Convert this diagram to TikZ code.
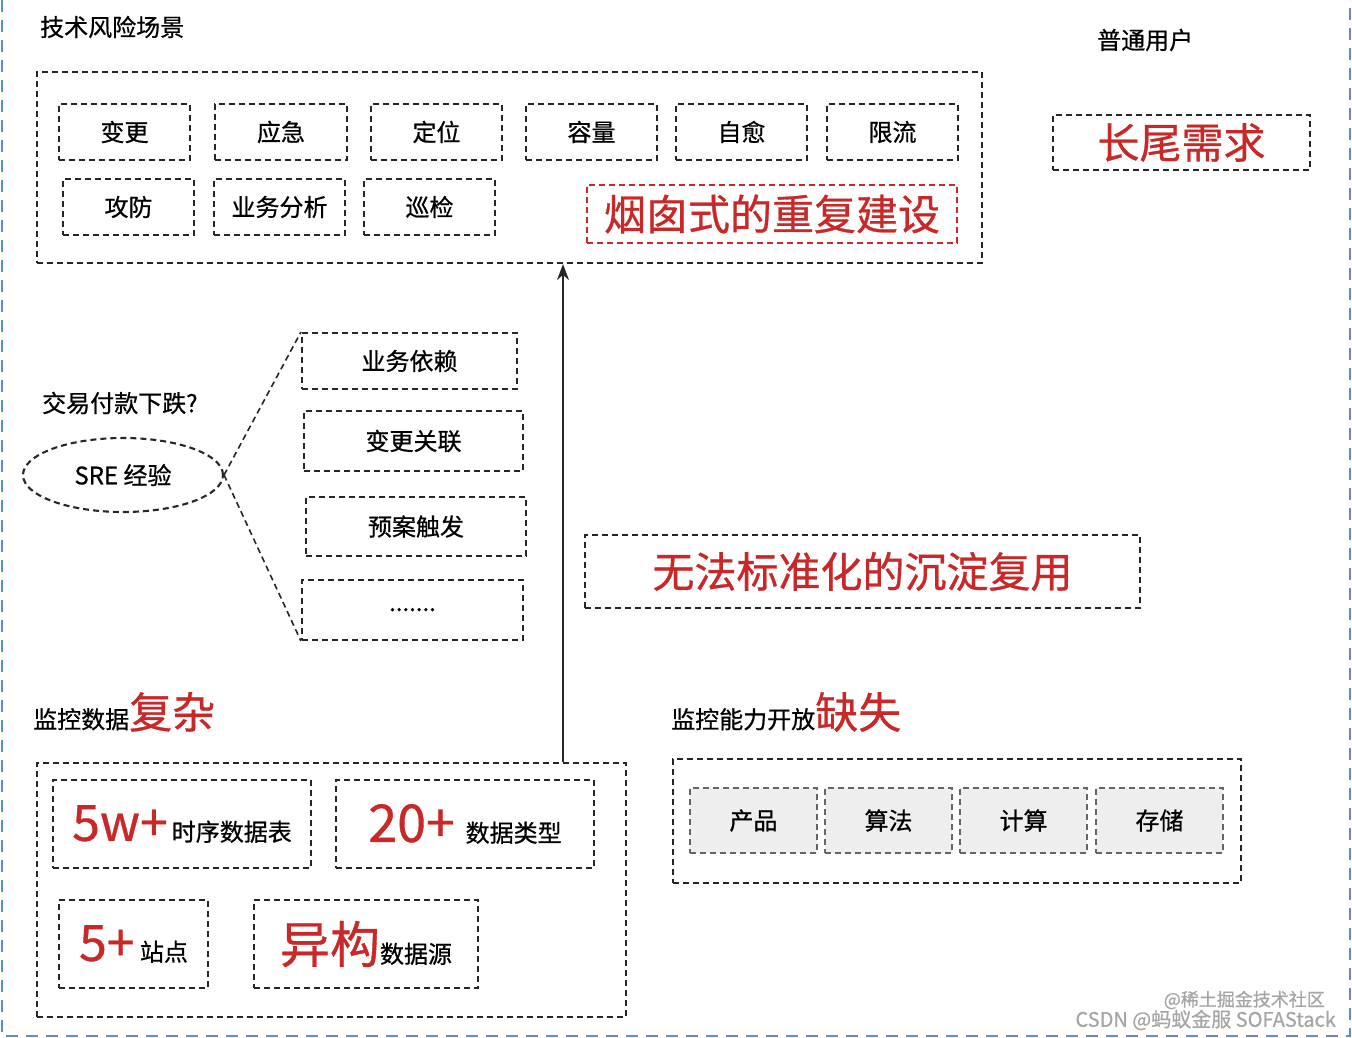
\documentclass[tikz,border=0pt]{standalone}
\usepackage{fontspec}
\setmainfont{Noto Sans CJK SC}[FakeBold=0.7]
\usetikzlibrary{arrows.meta,shapes.geometric}
\definecolor{rd}{RGB}{200,40,40}
\definecolor{bl}{RGB}{90,140,220}
\definecolor{gf}{RGB}{238,238,238}
\begin{document}
\begin{tikzpicture}[x=1pt,y=-1pt,
  dbox/.style={draw=black!85,dashed,line width=2.1pt,dash pattern=on 6pt off 4pt},
  bx/.style={dbox,inner sep=0pt,font=\fontsize{24}{26}\selectfont},
  gbx/.style={bx,fill=gf,draw=black!60},
  big/.style={font=\fontsize{42}{46}\selectfont},
  lab/.style={font=\fontsize{24}{26}\selectfont,anchor=west,inner sep=0pt}]
\useasboundingbox (0,0) rectangle (1352,1038);
\draw[bl,line width=2.5pt,dash pattern=on 12pt off 8pt] (2,0) -- (2,1036) -- (1350,1036) -- (1350,0);
% top section
\node[lab] (t1) at (40,27) {技术风险场景};
\node[dbox,minimum width=945pt,minimum height=191pt] (big) at (509.5,167.5) {};
\newcommand\bb[6]{\node[bx,minimum width=#3pt,minimum height=#4pt] (#1) at (#2) {#5};}
\bb{a1}{124.5,132}{131}{56}{变更}{}
\bb{a2}{281,132}{132}{56}{应急}{}
\bb{a3}{436.5,132}{131}{56}{定位}{}
\bb{a4}{591.5,132}{131}{56}{容量}{}
\bb{a5}{741.5,132}{131}{56}{自愈}{}
\bb{a6}{892.5,132}{131}{56}{限流}{}
\bb{b1}{128.5,207}{131}{56}{攻防}{}
\bb{b2}{279.5,207}{131}{56}{业务分析}{}
\bb{b3}{429.5,207}{131}{56}{巡检}{}
\node[bx,draw=rd,minimum width=370pt,minimum height=58pt,text=rd,big] (yc) at (772,214) {烟囱式的重复建设};
\node[lab] (pt) at (1097,40) {普通用户};
\node[bx,minimum width=257pt,minimum height=55pt,text=rd,big] (cw) at (1181.5,142.5) {长尾需求};
% middle
\node[lab] (jy) at (42,403) {交易付款下跌?};
\node[dbox,ellipse,minimum width=200pt,minimum height=74pt,inner sep=0pt,font=\fontsize{24}{26}\selectfont] (sre) at (123,475) {SRE 经验};
\bb{c1}{409.5,361}{215}{56}{业务依赖}{}
\bb{c2}{413.5,441}{219}{60}{变更关联}{}
\bb{c3}{416,526.5}{220}{59}{预案触发}{}
\bb{c4}{412.5,610}{221}{60}{\raisebox{1pt}{.......}}{}
\draw[dbox,line width=1.6pt] (sre.east) -- (c1.north west);
\draw[dbox,line width=1.6pt] (sre.east) -- (c4.south west);
\node[bx,minimum width=555pt,minimum height=73pt,text=rd,big] (wf) at (862.5,571.5) {无法标准化的沉淀复用};
% bottom left
\node[lab] (jk) at (33,712) {监控数据\textcolor{rd}{\fontsize{43}{46}\selectfont 复杂}};
\node[dbox,minimum width=589pt,minimum height=254pt] (bl) at (331.5,890) {};
\coordinate (ab) at (563,762);
\draw[-{Stealth[length=16pt,width=12pt]},line width=2pt,black!85] (ab) -- (big.south -| ab);
\node[bx,minimum width=258pt,minimum height=88pt] (d1) at (182,824) {\textcolor{rd}{\fontsize{50}{52}\selectfont 5w+}\,时序数据表};
\node[bx,minimum width=258pt,minimum height=88pt] (d2) at (465,824) {\textcolor{rd}{\fontsize{52}{54}\selectfont 20+}\ \ 数据类型};
\node[bx,minimum width=149pt,minimum height=88pt] (d3) at (133.5,944) {\textcolor{rd}{\fontsize{50}{52}\selectfont 5+}\ 站点};
\node[bx,minimum width=224pt,minimum height=88pt] (d4) at (366,944) {\textcolor{rd}{\fontsize{50}{52}\selectfont 异构}数据源};
% bottom right
\node[lab] (nl) at (671,712) {监控能力开放\textcolor{rd}{\fontsize{43}{46}\selectfont 缺失}};
\node[dbox,minimum width=568pt,minimum height=124pt] (br) at (957,821) {};
\node[gbx,minimum width=127pt,minimum height=65pt] (e1) at (753.5,820.5) {产品};
\node[gbx,minimum width=127pt,minimum height=65pt] (e2) at (888.5,820.5) {算法};
\node[gbx,minimum width=127pt,minimum height=65pt] (e3) at (1023.5,820.5) {计算};
\node[gbx,minimum width=127pt,minimum height=65pt] (e4) at (1159.5,820.5) {存储};
\node[anchor=east,inner sep=0pt,text=black!35,font=\fontsize{18}{20}\selectfont] (w1) at (1325,1000) {@稀土掘金技术社区};
\node[anchor=east,inner sep=0pt,text=black!35,font=\fontsize{20}{22}\selectfont] (w2) at (1336,1020) {CSDN @蚂蚁金服 SOFAStack};
\end{tikzpicture}
\end{document}
